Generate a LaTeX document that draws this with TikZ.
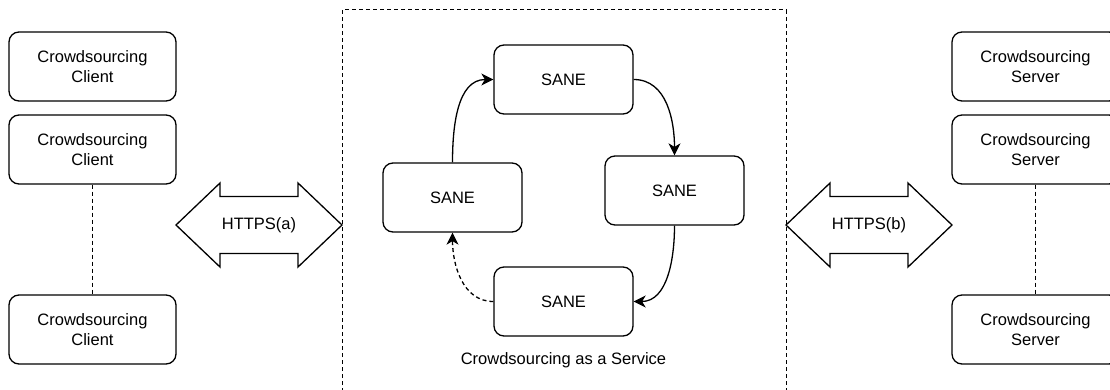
\documentclass[tikz,border=0pt]{standalone}
\usepackage{fontspec}
\setmainfont{Liberation Sans}
\usetikzlibrary{arrows.meta}

\begin{document}
\begin{tikzpicture}[x=1pt, y=1pt, font=\fontsize{16.5}{19.5}\selectfont,
    box/.style={draw, line width=1.3pt, rounded corners=10pt, minimum width=167pt, minimum height=69pt, align=center},
    sane/.style={box, minimum width=139pt},
    flow/.style={line width=1.3pt, -{Stealth[length=12pt, width=12pt, inset=3.5pt]}},
    link/.style={line width=1pt, dash pattern=on 4pt off 3pt}]
    \useasboundingbox (0,0) rectangle (1110,389);
    \clip (0,0) rectangle (1110,389);

    % Draw clients and servers
    \foreach \i/\y in {1/322.5, 2/239.5, 3/59.5} {
      \node[box] (client\i) at (92.5,\y) {Crowdsourcing\\Client};
      \node[box] (server\i) at (1035.5,\y) {Crowdsourcing\\Server};
    }
    \draw[link] (client2) -- (client3);
    \draw[link] (server2) -- (server3);

    % Service boundary
    \draw[link] (342,-10) -- (342,379) -- (786,379) -- (786,-10);

    % SANE ring
    \foreach \n/\x/\y in {top/563.5/309.5, left/452.5/191.5, right/674.5/198.5, bottom/563.5/87.5} {
      \node[sane] (\n) at (\x,\y) {SANE};
    }
    \draw[flow] (left.north) to[out=90, in=180] (top.west);
    \draw[flow] (top.east) to[out=0, in=90] (right.north);
    \draw[flow] (right.south) to[out=270, in=0] (bottom.east);
    \draw[flow, dash pattern=on 4pt off 3pt] (bottom.west) to[out=180, in=270] (left.south);
    \node (service) at (563.5,29) {Crowdsourcing as a Service};

    % HTTPS arrows
    \foreach \n/\cx/\lab in {a/259/HTTPS(a), b/869/HTTPS(b)} {
      \draw[line width=1.3pt] (\cx-83,164) -- (\cx-39,206) -- (\cx-39,192.5) -- (\cx+39,192.5) -- (\cx+39,206) -- (\cx+83,164)
        -- (\cx+39,122) -- (\cx+39,135.5) -- (\cx-39,135.5) -- (\cx-39,122) -- cycle;
      \node (https\n) at (\cx,164) {\lab};
    }
\end{tikzpicture}
\end{document}
